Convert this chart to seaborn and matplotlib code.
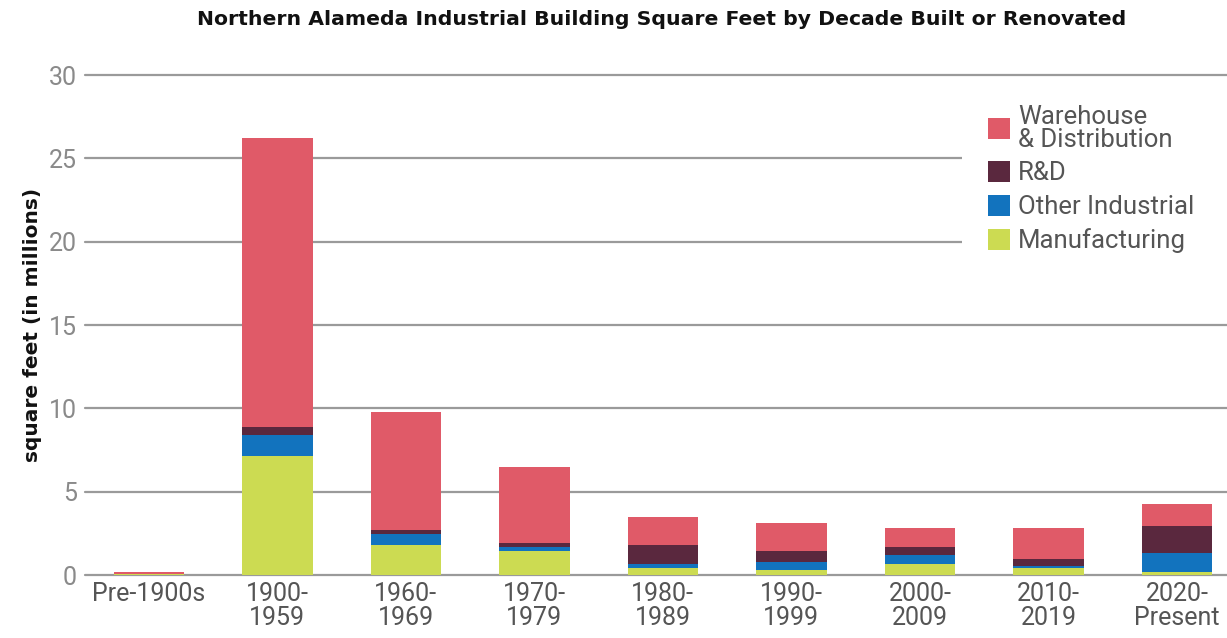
import numpy as np
import pandas as pd
import matplotlib
matplotlib.use("Agg")
import matplotlib.pyplot as plt
from matplotlib.patches import Patch
import seaborn as sns

# dati (milioni di piedi quadrati)
decadi = ["Pre-1900s", "1900-\n1959", "1960-\n1969", "1970-\n1979", "1980-\n1989",
          "1990-\n1999", "2000-\n2009", "2010-\n2019", "2020-\nPresent"]
manufacturing = [0.05, 7.14, 1.80, 1.44, 0.42, 0.28, 0.66, 0.42, 0.18]
other_industrial = [0.02, 1.26, 0.66, 0.26, 0.24, 0.52, 0.52, 0.12, 1.12]
r_and_d = [0.01, 0.50, 0.24, 0.24, 1.14, 0.62, 0.50, 0.40, 1.64]
warehouse = [0.08, 17.30, 7.10, 4.54, 1.66, 1.68, 1.16, 1.90, 1.30]

serie = ["Manufacturing", "Other Industrial", "R&D", "Warehouse\n& Distribution"]
colori = {"Manufacturing": "#CCDB52", "Other Industrial": "#1273BE",
          "R&D": "#5A283E", "Warehouse\n& Distribution": "#E05A68"}

df = pd.DataFrame({"decade": decadi, "Manufacturing": manufacturing,
                   "Other Industrial": other_industrial, "R&D": r_and_d,
                   "Warehouse\n& Distribution": warehouse})
cumul = df[serie].cumsum(axis=1)

sns.set_theme(style="white")
plt.rcParams["font.family"] = ["Roboto", "DejaVu Sans"]

fig = plt.figure(figsize=(12.27, 6.38), dpi=100)
ax = fig.add_axes([0.069, 0.0987, 0.931, 0.7837])

# barre sovrapposte: dal totale cumulato verso il basso
for s in reversed(serie):
    sns.barplot(x=df["decade"], y=cumul[s], color=colori[s], width=0.55,
                saturation=1, linewidth=0, edgecolor="none", ax=ax, zorder=3)

ax.set_ylim(0, 30)
ax.set_xlim(-0.5, 8.39)
ax.set_yticks(range(0, 31, 5))
for y in range(0, 31, 5):
    ax.axhline(y, color="#9a9a9a", lw=1.6, zorder=1, clip_on=False)
for sp in ax.spines.values():
    sp.set_visible(False)
ax.tick_params(axis="y", length=0, pad=5.5, labelsize=18, labelcolor="#8a8a8a")
ax.tick_params(axis="x", length=0, pad=5, labelsize=18, labelcolor="#555555")
for t in ax.get_xticklabels():
    t.set_linespacing(1.02)
ax.set_xlabel("")
ax.set_ylabel("square feet (in millions)", fontsize=14.5, fontweight="bold",
              family="DejaVu Sans", color="#111111")
ax.yaxis.set_label_coords(-0.037, 0.5)

fig.suptitle("Northern Alameda Industrial Building Square Feet by Decade Built or Renovated",
             x=0.539, y=0.985, fontsize=14.7, fontweight="bold", family="DejaVu Sans",
             color="#111111")

handles = [Patch(facecolor=colori[s], edgecolor="none", label=s) for s in reversed(serie)]
leg = fig.legend(handles=handles, loc="upper left",
                 bbox_to_anchor=(962 / 1227, 1 - 79 / 638, 265 / 1227, 0), mode="expand",
                 frameon=True, facecolor="white", edgecolor="none", framealpha=1,
                 fontsize=18.5, handlelength=0.88, handleheight=0.88, handletextpad=0.3,
                 labelspacing=0.36, borderpad=1.0, borderaxespad=0)
for t in leg.get_texts():
    t.set_color("#555555")
    t.set_linespacing(0.95)
leg.set_zorder(5)

fig.savefig("out.png", dpi=100)
